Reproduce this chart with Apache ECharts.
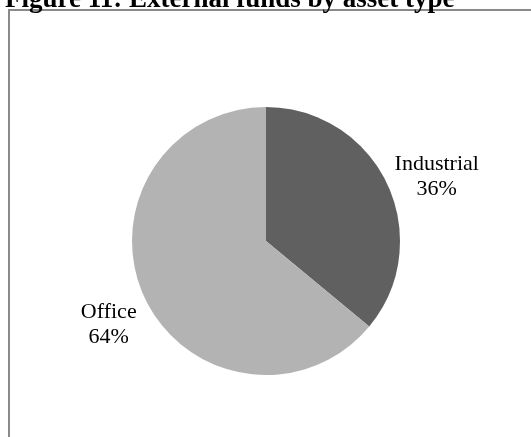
<!DOCTYPE html>
<html>
<head>
<meta charset="utf-8">
<script src="https://cdn.jsdelivr.net/npm/echarts@6/dist/echarts.min.js"></script>
<style>
  html, body { margin: 0; padding: 0; background: #fff; }
  #chart { width: 531px; height: 437px; }
</style>
</head>
<body>
<div id="chart"></div>
<script>
// Datos del gráfico
const categorias = ['Industrial', 'Office'];
const porcentajes = [36, 64];
const colores = ['#606060', '#b3b3b3'];

// Ajustes de la etiqueta de cada sector (longitud de la línea guía, oculta)
const largoLinea = [16, 63];
const largoLinea2 = [30, -26];

const myChart = echarts.init(document.getElementById('chart'));

option = {
    animation: false,
    title: {
        text: 'Figure 11: External funds by asset type',
        left: 0,
        top: -18,
        textStyle: {
            fontFamily: 'Liberation Serif',
            fontWeight: 'bold',
            fontSize: 27,
            color: '#000'
        }
    },
    // marco gris alrededor del gráfico
    graphic: [
        {
            type: 'rect',
            shape: { x: 9, y: 10, width: 700, height: 700 },
            style: { fill: 'none', stroke: '#8a8a8a', lineWidth: 2 },
            silent: true
        }
    ],
    series: [
        {
            type: 'pie',
            center: [266, 241],
            radius: 134,
            startAngle: 90,
            clockwise: true,
            label: {
                show: true,
                position: 'outside',
                formatter: '{b}\n{d}%',
                fontFamily: 'Liberation Serif',
                fontSize: 22,
                lineHeight: 25,
                color: '#000',
                overflow: 'none',
                edgeDistance: 0
            },
            labelLine: { show: false },
            labelLayout: function () {
                return { align: 'center' };
            },
            emphasis: { disabled: true },
            data: categorias.map(function (nombre, i) {
                return {
                    name: nombre,
                    value: porcentajes[i],
                    itemStyle: { color: colores[i] },
                    labelLine: { show: false, length: largoLinea[i], length2: largoLinea2[i] }
                };
            })
        }
    ]
};

myChart.setOption(option);
</script>
</body>
</html>
